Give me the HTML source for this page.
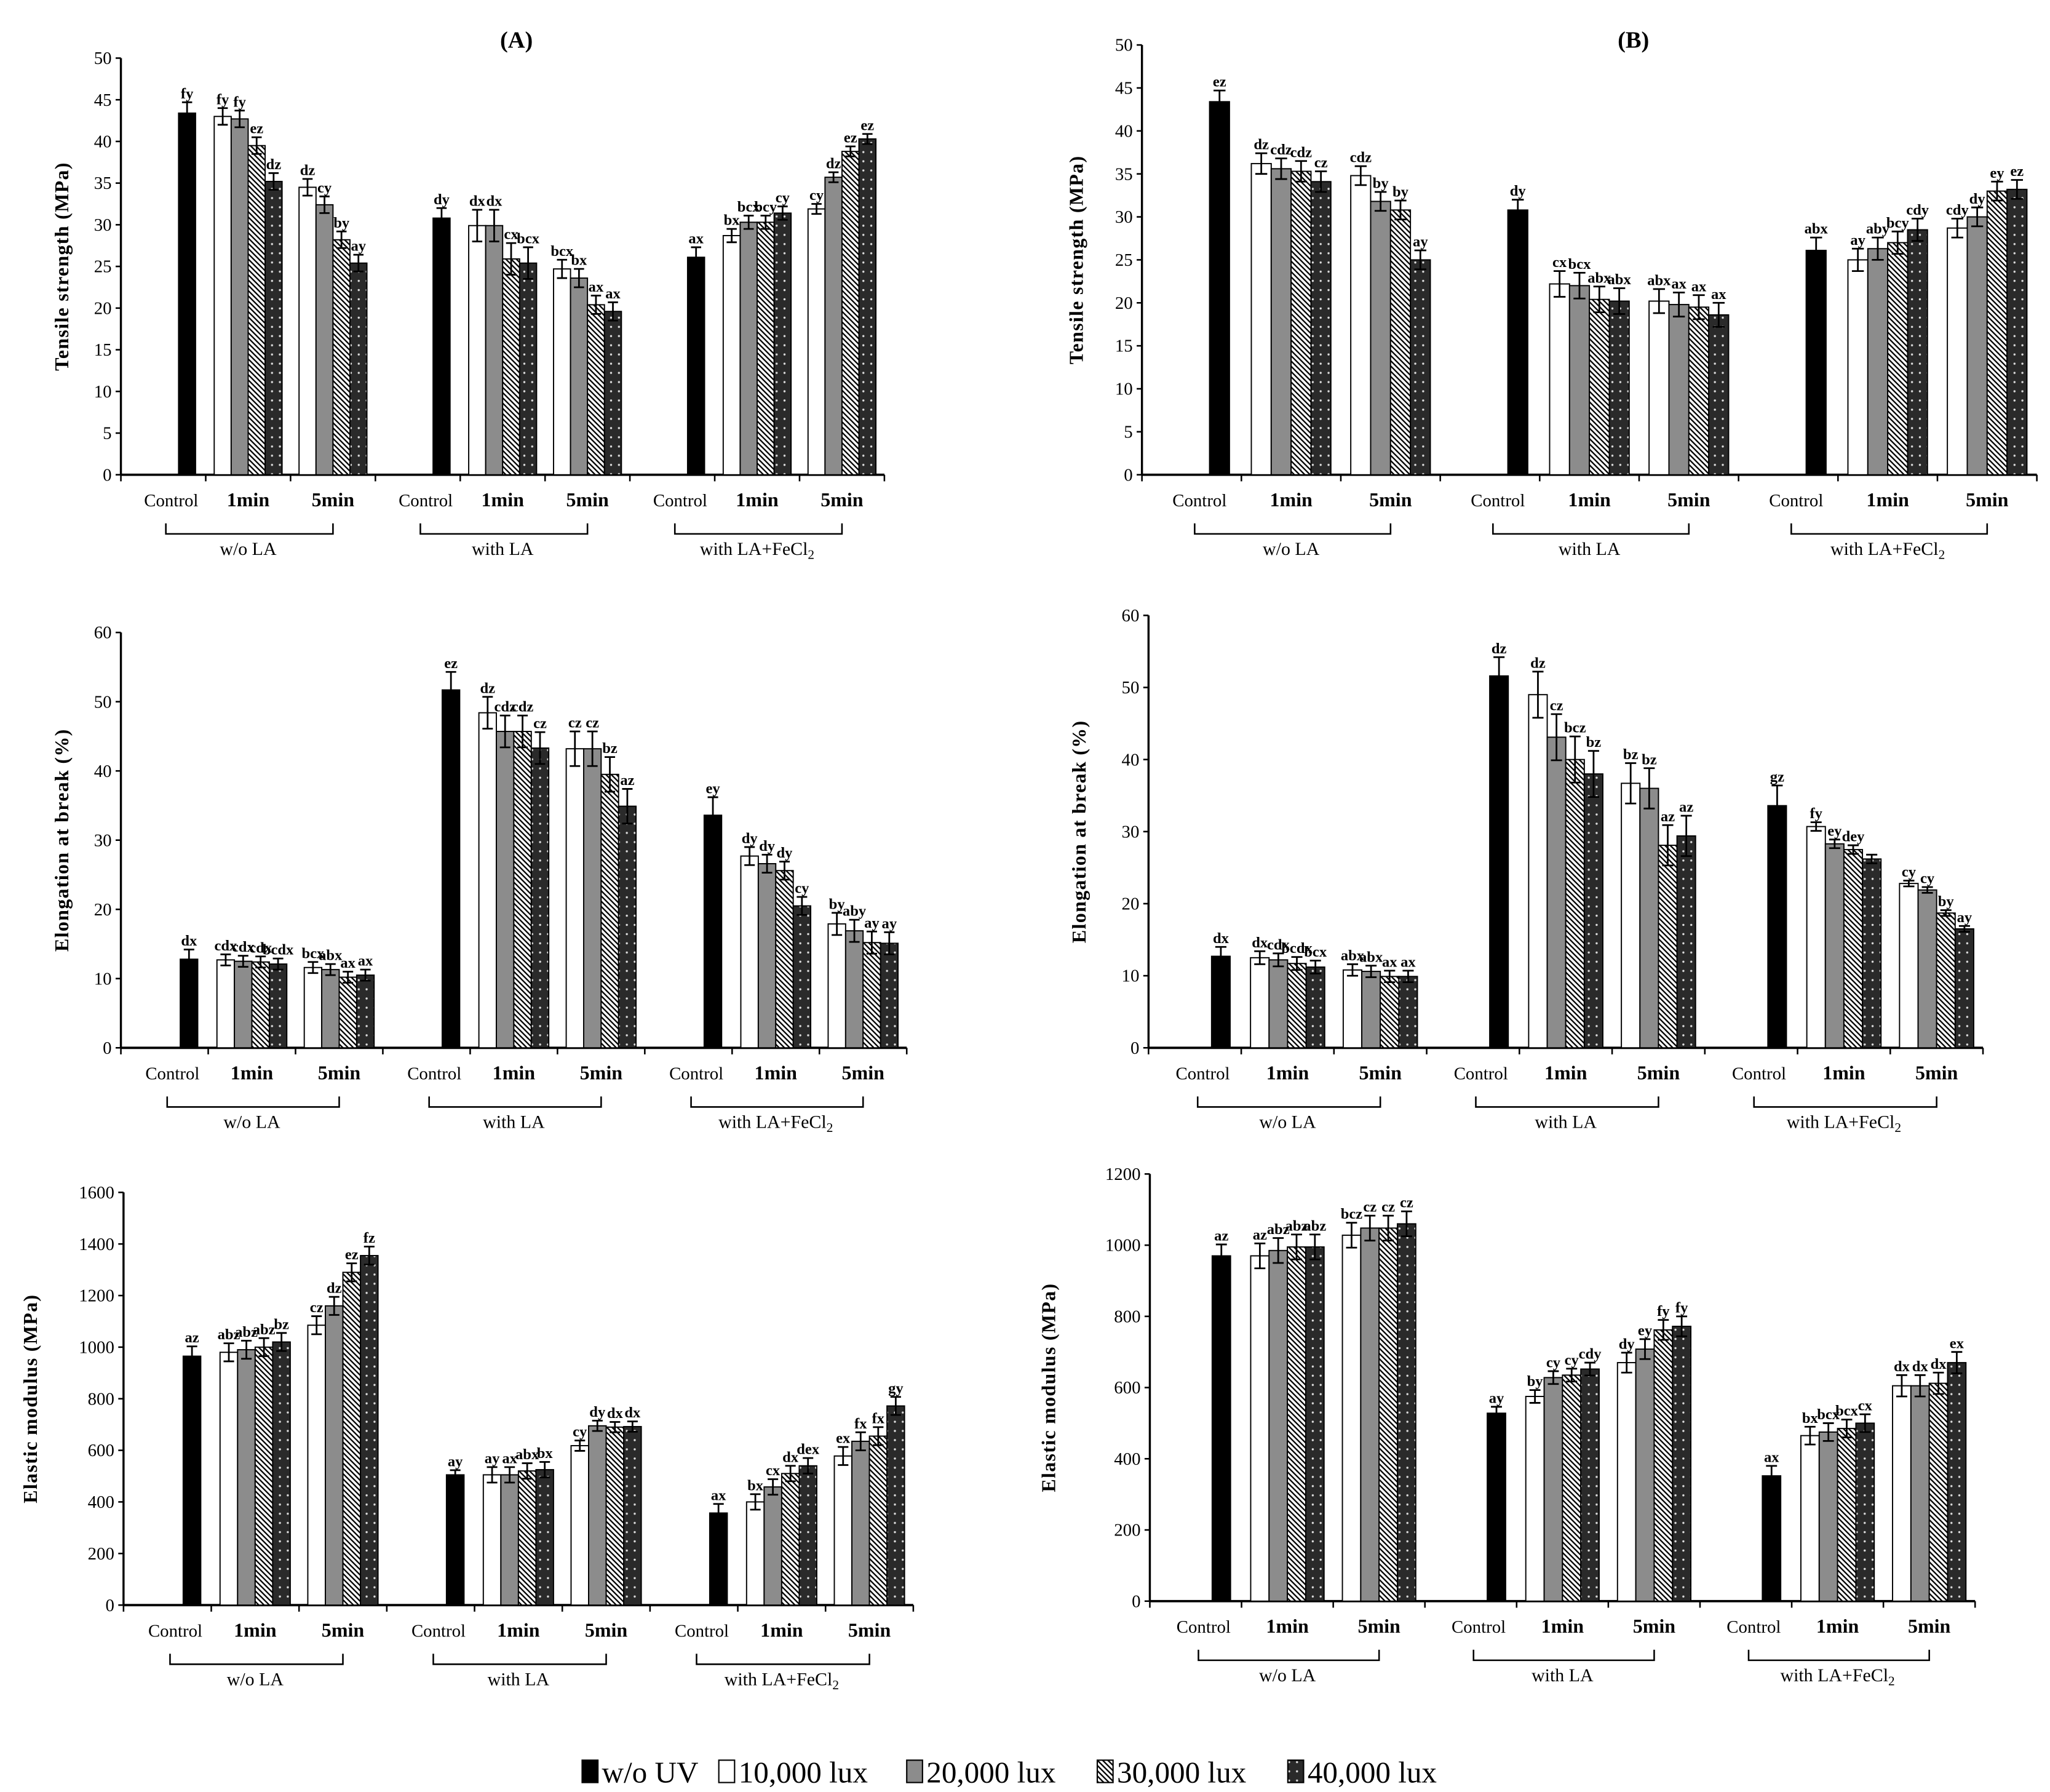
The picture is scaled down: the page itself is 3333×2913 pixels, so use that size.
<!DOCTYPE html>
<html><head><meta charset="utf-8"><style>
html,body{margin:0;padding:0;background:#fff;}
svg{display:block;font-family:"Liberation Serif",serif;}
</style></head>
<body>
<svg id="fig" width="3333" height="2913" viewBox="0 0 1560 1363" xmlns="http://www.w3.org/2000/svg">
<defs>
<pattern id="hatch" patternUnits="userSpaceOnUse" width="4" height="4">
<rect width="4" height="4" fill="#fff"/>
<path d="M-1,-1 L5,5 M-1,3 L1,5 M3,-1 L5,1" stroke="#000" stroke-width="1.1"/>
</pattern>
<pattern id="dots" patternUnits="userSpaceOnUse" width="6" height="7">
<rect width="6" height="7" fill="#2a2a2a"/>
<circle cx="3" cy="3.5" r="0.8" fill="#ddd"/>
</pattern>
</defs>
<g id="panels"></g>
<text x="393" y="36" font-size="18" font-weight="bold" text-anchor="middle">(A)</text>
<text x="1243" y="36" font-size="18" font-weight="bold" text-anchor="middle">(B)</text>
<g id="legend"></g>
</svg>
<script>
// ---- data ----
const groupNames = ["w/o LA","with LA","with LA+FeCl2"];
const catNames = ["Control","1min","5min"];
const seriesNames = ["w/o UV","10,000 lux","20,000 lux","30,000 lux","40,000 lux"];

const tsA_control = [43.4, 30.8, 26.1];
const tsA_1min = [[43.0,42.7,39.5,35.2],[29.9,29.9,25.9,25.4],[28.7,30.3,30.3,31.4]];
const tsA_5min = [[34.5,32.4,28.2,25.4],[24.7,23.6,20.4,19.6],[31.9,35.7,38.8,40.3]];
const tsA_err = [1.3,1.0,1.0,1.2,1.9,1.1,1.2,0.8,0.6];
const tsA_ctrlLbl = ["fy","dy","ax"];
const tsA_1minLbl = [["fy","fy","ez","dz"],["dx","dx","cx","bcx"],["bx","bcx","bcy","cy"]];
const tsA_5minLbl = [["dz","cy","by","ay"],["bcx","bx","ax","ax"],["cy","dz","ez","ez"]];

const tsB_control = [43.4, 30.8, 26.1];
const tsB_1min = [[36.2,35.6,35.3,34.1],[22.2,22.0,20.4,20.2],[25.0,26.3,27.0,28.5]];
const tsB_5min = [[34.8,31.8,30.8,25.0],[20.2,19.8,19.5,18.6],[28.7,30.0,33.0,33.2]];
const tsB_err = [1.3,1.2,1.1,1.2,1.5,1.4,1.5,1.3,1.1];
const tsB_ctrlLbl = ["ez","dy","abx"];
const tsB_1minLbl = [["dz","cdz","cdz","cz"],["cx","bcx","abx","abx"],["ay","aby","bcy","cdy"]];
const tsB_5minLbl = [["cdz","by","by","ay"],["abx","ax","ax","ax"],["cdy","dy","ey","ez"]];

const ebA_control = [12.8, 51.7, 33.6];
const ebA_1min = [[12.7,12.5,12.4,12.1],[48.4,45.7,45.7,43.3],[27.7,26.6,25.6,20.5]];
const ebA_5min = [[11.6,11.3,10.2,10.5],[43.2,43.2,39.5,34.9],[17.9,16.9,15.2,15.1]];
const ebA_err = [1.4,0.8,0.8,2.6,2.3,2.5,2.6,1.3,1.6];
const ebA_ctrlLbl = ["dx","ez","ey"];
const ebA_1minLbl = [["cdx","cdx","cdx","bcdx"],["dz","cdz","cdz","cz"],["dy","dy","dy","cy"]];
const ebA_5minLbl = [["bcx","abx","ax","ax"],["cz","cz","bz","az"],["by","aby","ay","ay"]];

const ebB_control = [12.7, 51.6, 33.6];
const ebB_1min = [[12.5,12.2,11.7,11.2],[49.0,43.1,40.0,38.0],[30.7,28.3,27.5,26.2]];
const ebB_5min = [[10.8,10.6,9.9,9.9],[36.7,36.0,28.1,29.4],[22.8,21.9,18.7,16.5]];
const ebB_err = [1.3,0.9,0.8,2.6,3.2,2.8,2.8,0.6,0.4];
const ebB_ctrlLbl = ["dx","dz","gz"];
const ebB_1minLbl = [["dx","cdx","bcdx","bcx"],["dz","cz","bcz","bz"],["fy","ey","dey",""]];
const ebB_5minLbl = [["abx","abx","ax","ax"],["bz","bz","az","az"],["cy","cy","by","ay"]];

const emA_control = [965, 505, 357];
const emA_1min = [[980,990,1000,1020],[505,505,520,525],[400,458,510,540]];
const emA_5min = [[1085,1160,1290,1355],[618,695,690,692],[578,635,655,772]];
const emA_err = [38,35,35,18,30,20,35,30,35];
const emA_ctrlLbl = ["az","ay","ax"];
const emA_1minLbl = [["abz","abz","abz","bz"],["ay","ax","abx","bx"],["bx","cx","dx","dex"]];
const emA_5minLbl = [["cz","dz","ez","fz"],["cy","dy","dx","dx"],["ex","fx","fx","gy"]];

const emB_control = [970, 528, 352];
const emB_1min = [[970,985,995,995],[575,628,635,652],[465,475,485,500]];
const emB_5min = [[1028,1048,1048,1060],[670,708,762,772],[605,605,612,670]];
const emB_err = [32,35,35,18,18,28,28,25,30];
const emB_ctrlLbl = ["az","ay","ax"];
const emB_1minLbl = [["az","abz","abz","abz"],["by","cy","cy","cdy"],["bx","bcx","bcx","cx"]];
const emB_5minLbl = [["bcz","cz","cz","cz"],["dy","ey","fy","fy"],["dx","dx","dx","ex"]];

const tsTicks = [0,5,10,15,20,25,30,35,40,45,50];
const ebTicks = [0,10,20,30,40,50,60];
const emATicks = [0,200,400,600,800,1000,1200,1400,1600];
const emBTicks = [0,200,400,600,800,1000,1200];

const fills = ["#000","#fff","#8c8c8c","url(#hatch)","url(#dots)"];
const NS = "http://www.w3.org/2000/svg";
const root = document.getElementById("panels");

function el(tag, attrs, parent){
  const e = document.createElementNS(NS, tag);
  for (const k in attrs) e.setAttribute(k, attrs[k]);
  parent.appendChild(e);
  return e;
}

function drawPanel(p){
  const g = el("g", {}, root);
  
  
  const max = p.ticks[p.ticks.length-1];
  const yS = v => p.y0 - (v/max)*(p.y0 - p.yTop);
  const S = (p.x1 - p.x0)/9;
  const bw = 0.2*S;
  const ya = el("line",{x1:p.x0,y1:p.yTop,x2:p.x0,y2:p.y0,stroke:"#000","stroke-width":1.6},g);
  
  
  const xa = el("line",{x1:p.x0,y1:p.y0,x2:p.x1,y2:p.y0,stroke:"#000","stroke-width":1.8},g);
  
  
  p.ticks.forEach(t=>{
    const y = yS(t);
    el("line",{x1:p.x0-4,y1:y,x2:p.x0,y2:y,stroke:"#000","stroke-width":1.2},g);
    const tx = el("text",{x:p.x0-7,y:y+4.5,"font-size":13.5,"text-anchor":"end"},g);
    tx.textContent = t;
    
    
  });
  for(let i=0;i<=9;i++){
    const x = p.x0 + i*S;
    el("line",{x1:x,y1:p.y0,x2:x,y2:p.y0+5,stroke:"#000","stroke-width":1.2},g);
  }
  const yt = el("text",{x:0,y:0,"font-size":15,"font-weight":"bold","text-anchor":"middle","letter-spacing":"0.6",transform:`translate(${p.titleX},${(p.yTop+p.y0)/2}) rotate(-90)`},g);
  yt.textContent = p.title;
  
  

  function bar(x, v, err, fill, lbl){
    const y = yS(v);
    const r = el("rect",{x:x,y:y,width:bw,height:p.y0-y,fill:fill,stroke:"#000","stroke-width":0.9},g);
    
    
    const cx = x+bw/2, et = yS(v+err), eb = yS(v-err);
    el("path",{d:`M${cx},${et}V${eb}M${cx-bw*0.3},${et}H${cx+bw*0.3}M${cx-bw*0.3},${eb}H${cx+bw*0.3}`,stroke:"#000","stroke-width":1.3,fill:"none"},g);
    if(lbl){
      const t = el("text",{x:cx,y:et-3,"font-size":11.5,"font-weight":"bold","text-anchor":"middle"},g);
      t.textContent = lbl;
      
      
    }
  }
  for(let gi=0; gi<3; gi++){
    const s0 = p.x0 + 3*gi*S;
    bar(s0+0.68*S, p.ctrl[gi], p.err[3*gi], fills[0], p.ctrlLbl[gi]);
    for(let k=0;k<4;k++){
      bar(s0+S+0.1*S+k*bw, p.m1[gi][k], p.err[3*gi+1], fills[k+1], p.m1Lbl[gi][k]);
      bar(s0+2*S+0.1*S+k*bw, p.m5[gi][k], p.err[3*gi+2], fills[k+1], p.m5Lbl[gi][k]);
    }
    const ly = p.y0 + 24;
    catNames.forEach((c,ci)=>{
      const t = el("text",{x:s0+(ci+0.5)*S+(ci===0?6:0),y:ly,"font-size":ci===0?13.5:15,"font-weight":ci===0?"normal":"bold","text-anchor":"middle"},g);
      t.textContent = c;
      
      
    });
    const by = p.y0 + 45;
    const bl = s0+0.53*S, br = s0+2.5*S;
    el("path",{d:`M${bl},${by-8}V${by}H${br}V${by-8}`,stroke:"#000","stroke-width":1.2,fill:"none"},g);
    const gt = el("text",{x:s0+1.5*S,y:by+16,"font-size":14,"text-anchor":"middle"},g);
    if(gi===2){ gt.innerHTML = 'with LA+FeCl<tspan font-size="10" dy="3">2</tspan>'; }
    else gt.textContent = groupNames[gi];
    
    
  }
}

drawPanel({name:"tensile-strength-a",x0:92,x1:673,yTop:44,y0:361,ticks:tsTicks,titleX:52,title:"Tensile strength (MPa)",ctrl:tsA_control,m1:tsA_1min,m5:tsA_5min,err:tsA_err,ctrlLbl:tsA_ctrlLbl,m1Lbl:tsA_1minLbl,m5Lbl:tsA_5minLbl});
drawPanel({name:"tensile-strength-b",x0:869,x1:1550,yTop:34,y0:361,ticks:tsTicks,titleX:824,title:"Tensile strength (MPa)",ctrl:tsB_control,m1:tsB_1min,m5:tsB_5min,err:tsB_err,ctrlLbl:tsB_ctrlLbl,m1Lbl:tsB_1minLbl,m5Lbl:tsB_5minLbl});
drawPanel({name:"elongation-a",x0:92,x1:690,yTop:481,y0:797,ticks:ebTicks,titleX:52,title:"Elongation at break (%)",ctrl:ebA_control,m1:ebA_1min,m5:ebA_5min,err:ebA_err,ctrlLbl:ebA_ctrlLbl,m1Lbl:ebA_1minLbl,m5Lbl:ebA_5minLbl});
drawPanel({name:"elongation-b",x0:874,x1:1509,yTop:468,y0:797,ticks:ebTicks,titleX:826,title:"Elongation at break (%)",ctrl:ebB_control,m1:ebB_1min,m5:ebB_5min,err:ebB_err,ctrlLbl:ebB_ctrlLbl,m1Lbl:ebB_1minLbl,m5Lbl:ebB_5minLbl});
drawPanel({name:"elastic-modulus-a",x0:94,x1:695,yTop:907,y0:1221,ticks:emATicks,titleX:28,title:"Elastic modulus (MPa)",ctrl:emA_control,m1:emA_1min,m5:emA_5min,err:emA_err,ctrlLbl:emA_ctrlLbl,m1Lbl:emA_1minLbl,m5Lbl:emA_5minLbl});
drawPanel({name:"elastic-modulus-b",x0:875,x1:1503,yTop:893,y0:1218,ticks:emBTicks,titleX:803,title:"Elastic modulus (MPa)",ctrl:emB_control,m1:emB_1min,m5:emB_5min,err:emB_err,ctrlLbl:emB_ctrlLbl,m1Lbl:emB_1minLbl,m5Lbl:emB_5minLbl});

const leg = document.getElementById("legend");
const legX = [443, 547, 690, 835, 980];
seriesNames.forEach((n,i)=>{
  const r = el("rect",{x:legX[i],y:1339,width:12,height:17,fill:fills[i],stroke:"#000","stroke-width":1},leg);
  
  
  const t = el("text",{x:legX[i]+15,y:1356,"font-size":23},leg);
  t.textContent = n;
  
  
});
</script>
</body></html>
